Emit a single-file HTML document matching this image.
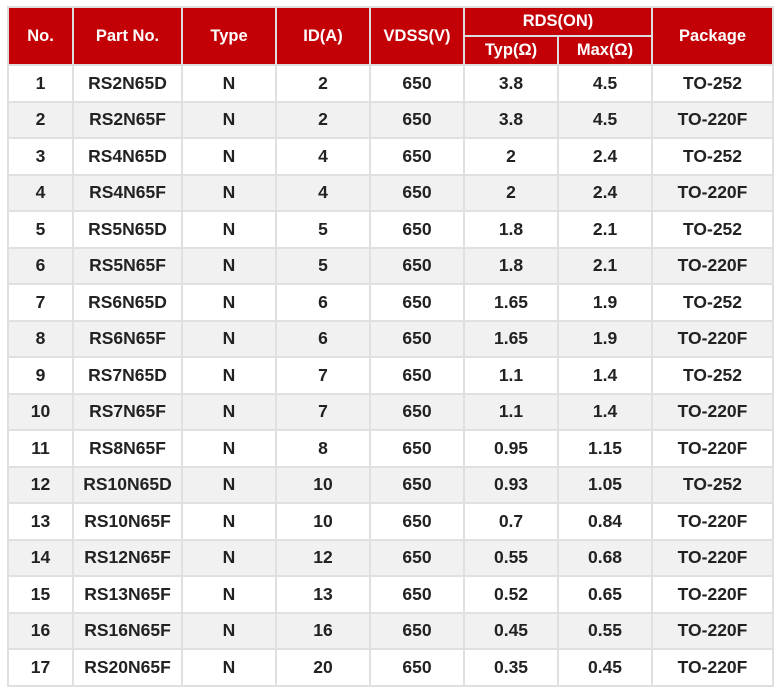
<!DOCTYPE html>
<html><head><meta charset="utf-8"><style>
body{margin:0;background:#fff;width:780px;height:690px;overflow:hidden}
table{position:absolute;left:7px;top:6px;border-collapse:collapse;table-layout:fixed;width:765px;font-family:"Liberation Sans","DejaVu Sans",sans-serif;font-weight:bold;font-size:17.5px;color:#222}
td,th{border:2px solid #e0e0e0;text-align:center;padding:0;height:34.5px}
th{background:#c20006;color:#fff;border-color:#ddd;font-size:16.5px;height:27px}
tbody tr:nth-child(even) td{background:#f1f1f1}
tbody tr:nth-child(odd) td{background:#fff}
</style></head><body>
<table>
<colgroup><col style="width:65px"><col style="width:109px"><col style="width:94px"><col style="width:94px"><col style="width:94px"><col style="width:94px"><col style="width:94px"><col style="width:121px"></colgroup>
<thead>
<tr><th rowspan="2">No.</th><th rowspan="2">Part No.</th><th rowspan="2">Type</th><th rowspan="2">ID(A)</th><th rowspan="2">VDSS(V)</th><th colspan="2">RDS(ON)</th><th rowspan="2">Package</th></tr>
<tr><th>Typ(Ω)</th><th>Max(Ω)</th></tr>
</thead>
<tbody>
<tr><td>1</td><td>RS2N65D</td><td>N</td><td>2</td><td>650</td><td>3.8</td><td>4.5</td><td>TO-252</td></tr>
<tr><td>2</td><td>RS2N65F</td><td>N</td><td>2</td><td>650</td><td>3.8</td><td>4.5</td><td>TO-220F</td></tr>
<tr><td>3</td><td>RS4N65D</td><td>N</td><td>4</td><td>650</td><td>2</td><td>2.4</td><td>TO-252</td></tr>
<tr><td>4</td><td>RS4N65F</td><td>N</td><td>4</td><td>650</td><td>2</td><td>2.4</td><td>TO-220F</td></tr>
<tr><td>5</td><td>RS5N65D</td><td>N</td><td>5</td><td>650</td><td>1.8</td><td>2.1</td><td>TO-252</td></tr>
<tr><td>6</td><td>RS5N65F</td><td>N</td><td>5</td><td>650</td><td>1.8</td><td>2.1</td><td>TO-220F</td></tr>
<tr><td>7</td><td>RS6N65D</td><td>N</td><td>6</td><td>650</td><td>1.65</td><td>1.9</td><td>TO-252</td></tr>
<tr><td>8</td><td>RS6N65F</td><td>N</td><td>6</td><td>650</td><td>1.65</td><td>1.9</td><td>TO-220F</td></tr>
<tr><td>9</td><td>RS7N65D</td><td>N</td><td>7</td><td>650</td><td>1.1</td><td>1.4</td><td>TO-252</td></tr>
<tr><td>10</td><td>RS7N65F</td><td>N</td><td>7</td><td>650</td><td>1.1</td><td>1.4</td><td>TO-220F</td></tr>
<tr><td>11</td><td>RS8N65F</td><td>N</td><td>8</td><td>650</td><td>0.95</td><td>1.15</td><td>TO-220F</td></tr>
<tr><td>12</td><td>RS10N65D</td><td>N</td><td>10</td><td>650</td><td>0.93</td><td>1.05</td><td>TO-252</td></tr>
<tr><td>13</td><td>RS10N65F</td><td>N</td><td>10</td><td>650</td><td>0.7</td><td>0.84</td><td>TO-220F</td></tr>
<tr><td>14</td><td>RS12N65F</td><td>N</td><td>12</td><td>650</td><td>0.55</td><td>0.68</td><td>TO-220F</td></tr>
<tr><td>15</td><td>RS13N65F</td><td>N</td><td>13</td><td>650</td><td>0.52</td><td>0.65</td><td>TO-220F</td></tr>
<tr><td>16</td><td>RS16N65F</td><td>N</td><td>16</td><td>650</td><td>0.45</td><td>0.55</td><td>TO-220F</td></tr>
<tr><td>17</td><td>RS20N65F</td><td>N</td><td>20</td><td>650</td><td>0.35</td><td>0.45</td><td>TO-220F</td></tr>
</tbody>
</table>
</body></html>
